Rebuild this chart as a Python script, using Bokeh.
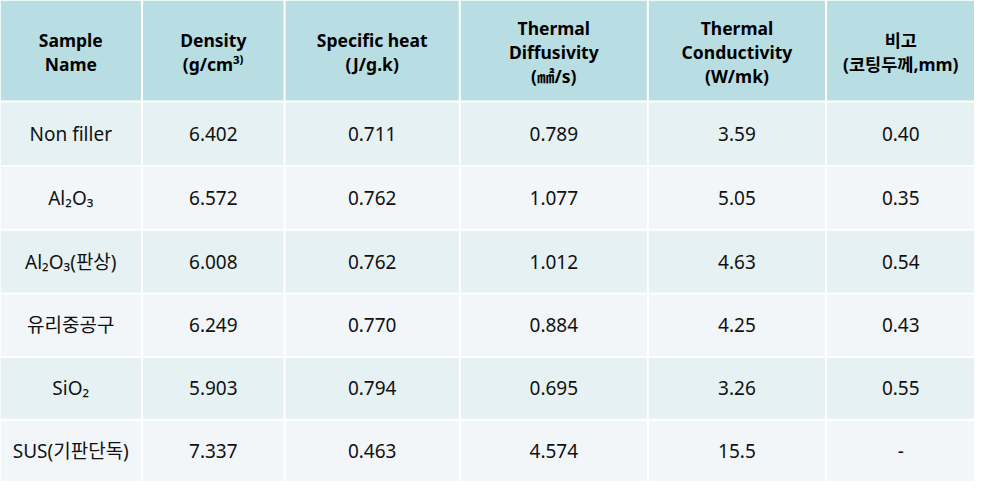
from bokeh.plotting import figure
from bokeh.models import Range1d
from bokeh.core.properties import value
from bokeh.embed import file_html
from bokeh.resources import INLINE

# ---- data ----
headers = ["Sample\nName", "Density\n(g/cm³⁾", "Specific heat\n(J/g.k)",
           "Thermal\nDiffusivity\n(㎟/s)", "Thermal\nConductivity\n(W/mk)", "비고\n(코팅두께,mm)"]
samples = ["Non filler", "Al₂O₃", "Al₂O₃(판상)", "유리중공구", "SiO₂", "SUS(기판단독)"]
density = ["6.402", "6.572", "6.008", "6.249", "5.903", "7.337"]
specific_heat = ["0.711", "0.762", "0.762", "0.770", "0.794", "0.463"]
diffusivity = ["0.789", "1.077", "1.012", "0.884", "0.695", "4.574"]
conductivity = ["3.59", "5.05", "4.63", "4.25", "3.26", "15.5"]
remarks = ["0.40", "0.35", "0.54", "0.43", "0.55", "-"]

columns = [samples, density, specific_heat, diffusivity, conductivity, remarks]

# ---- layout (pixel grid of the table) ----
col_edges = [(3, 145), (147, 289), (291, 466), (468, 656), (658, 836), (838, 987)]
head_edge = (4, 106)
row_edges = [(108, 172), (174, 237), (239, 302), (304, 367), (369, 431), (433, 495)]

HEAD_COLOR = "#b8dee3"
ODD_COLOR = "#e6f1f3"
EVEN_COLOR = "#f2f6f9"
FONT = "Noto Sans, Noto Sans CJK KR"

p = figure(width=974, height=481, output_backend="svg", toolbar_location=None,
           x_range=Range1d(3, 987), y_range=Range1d(495, 4),
           min_border=0, min_border_left=0, min_border_right=0,
           min_border_top=0, min_border_bottom=0)
p.axis.visible = False
p.grid.visible = False
p.outline_line_color = None
p.background_fill_color = "white"
p.border_fill_color = "white"

# cells
L, R, T, B, C = [], [], [], [], []
for (l, r) in col_edges:
    L.append(l); R.append(r); T.append(head_edge[0]); B.append(head_edge[1]); C.append(HEAD_COLOR)
for i, (t, b) in enumerate(row_edges):
    for (l, r) in col_edges:
        L.append(l); R.append(r); T.append(t); B.append(b)
        C.append(ODD_COLOR if i % 2 == 0 else EVEN_COLOR)
p.quad(left=L, right=R, top=T, bottom=B, fill_color=C, line_color=None)

# header texts
hx = [(l + r) / 2 for (l, r) in col_edges]
hy = [(head_edge[0] + head_edge[1]) / 2 + 2] * len(headers)
p.text(x=hx, y=hy, text=headers, text_align="center", text_baseline="middle",
       text_font=value(FONT), text_font_size="17.5px", text_font_style="bold",
       text_color="#000000", text_line_height=1.0)

# body texts
bx, by, bt = [], [], []
for ci, col in enumerate(columns):
    cx = (col_edges[ci][0] + col_edges[ci][1]) / 2
    for ri, v in enumerate(col):
        bx.append(cx)
        by.append((row_edges[ri][0] + row_edges[ri][1]) / 2)
        bt.append(v)
p.text(x=bx, y=by, text=bt, text_align="center", text_baseline="middle",
       text_font=value(FONT), text_font_size="19px", text_color="#111111")

open("out.html", "w").write(file_html(p, INLINE))
